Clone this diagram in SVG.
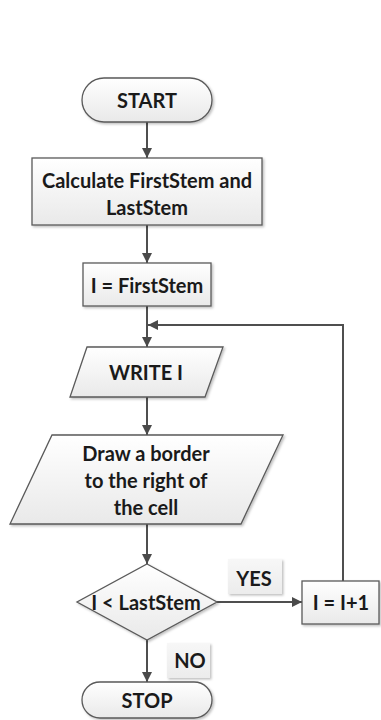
<svg xmlns="http://www.w3.org/2000/svg" width="381" height="720" viewBox="0 0 381 720">
  <defs>
    <linearGradient id="shapeFill" x1="0" y1="0" x2="0" y2="1">
      <stop offset="0" stop-color="#ffffff"/>
      <stop offset="1" stop-color="#e9e9e9"/>
    </linearGradient>
    <linearGradient id="labelFill" x1="0" y1="0" x2="0" y2="1">
      <stop offset="0" stop-color="#f7f7f7"/>
      <stop offset="1" stop-color="#ececec"/>
    </linearGradient>
    <filter id="shadow" x="-10%" y="-10%" width="125%" height="130%">
      <feDropShadow dx="1.5" dy="1.5" stdDeviation="1" flood-color="#000" flood-opacity="0.25"/>
    </filter>
    <marker id="arrow" viewBox="0 0 10 10" refX="10" refY="5" markerWidth="10" markerHeight="10" markerUnits="userSpaceOnUse" orient="auto">
      <path d="M0,0 L10,5 L0,10 Z" fill="#4a4a4a"/>
    </marker>
  </defs>
  <style>
    .shape { fill: url(#shapeFill); stroke: #5a5a5a; stroke-width: 1.3; filter: url(#shadow); }
    .label-bg { fill: url(#labelFill); filter: url(#shadow); }
    .edge { fill: none; stroke: #4f4f4f; stroke-width: 2; }
    text { font-family: "Lato", "Liberation Sans", sans-serif; font-weight: bold; font-size: 20px; fill: #1a1a1a; text-anchor: middle; dominant-baseline: central; }
  </style>

  <rect width="381" height="720" fill="#ffffff"/>

  <!-- connectors -->
  <g id="connectors">
    <path class="edge" d="M147,122 V158" marker-end="url(#arrow)"/>
    <path class="edge" d="M147,225 V263" marker-end="url(#arrow)"/>
    <path class="edge" d="M147,306 V347" marker-end="url(#arrow)"/>
    <path class="edge" d="M147,397 V435" marker-end="url(#arrow)"/>
    <path class="edge" d="M147,524 V564" marker-end="url(#arrow)"/>
    <path class="edge" d="M147,640 V682" marker-end="url(#arrow)"/>
    <path class="edge" d="M217,602 H302" marker-end="url(#arrow)"/>
    <path class="edge" d="M343,581 V325 H148" marker-end="url(#arrow)"/>
  </g>

  <!-- branch labels -->
  <g id="label-yes">
    <rect class="label-bg" x="228" y="559" width="54" height="35"/>
    <text x="254" y="578">YES</text>
  </g>
  <g id="label-no">
    <rect class="label-bg" x="167" y="643" width="43" height="35"/>
    <text x="190" y="660">NO</text>
  </g>

  <!-- nodes -->
  <g id="start">
    <rect class="shape" x="82" y="78" width="130" height="44" rx="22" ry="22"/>
    <text x="147" y="100">START</text>
  </g>
  <g id="calc-stems">
    <rect class="shape" x="32" y="158" width="230" height="67"/>
    <text x="147" y="180">Calculate FirstStem and</text>
    <text x="147" y="207">LastStem</text>
  </g>
  <g id="init-i">
    <rect class="shape" x="83" y="263" width="128" height="43"/>
    <text x="147" y="285">I = FirstStem</text>
  </g>
  <g id="write-i">
    <polygon class="shape" points="87,347 223,347 205,397 70,397"/>
    <text x="146" y="372">WRITE I</text>
  </g>
  <g id="draw-border">
    <polygon class="shape" points="52,435 283,435 241,524 10,524"/>
    <text x="146" y="453">Draw a border</text>
    <text x="146" y="480">to the right of</text>
    <text x="146" y="507">the cell</text>
  </g>
  <g id="check-last">
    <polygon class="shape" points="147,564 217,602 147,640 77,602"/>
    <text x="146" y="602">I &lt; LastStem</text>
  </g>
  <g id="increment">
    <rect class="shape" x="302" y="581" width="77" height="43"/>
    <text x="341" y="602">I = I+1</text>
  </g>
  <g id="stop">
    <rect class="shape" x="82" y="682" width="130" height="36" rx="18" ry="18"/>
    <text x="147" y="700">STOP</text>
  </g>
</svg>
